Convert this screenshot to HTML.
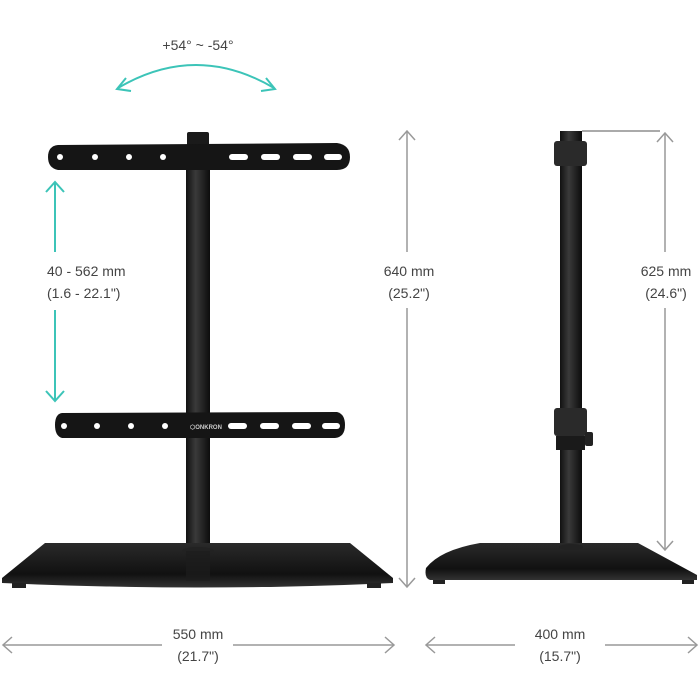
<!DOCTYPE html>
<html><head><style>
html,body{margin:0;padding:0;background:#fff;width:700px;height:700px;overflow:hidden}
text{font-family:"Liberation Sans",sans-serif;font-size:14px;fill:#444}
</style></head><body>
<svg width="700" height="700" viewBox="0 0 700 700" xmlns="http://www.w3.org/2000/svg">
<defs>
<linearGradient id="pole" x1="0" x2="1"><stop offset="0" stop-color="#111"/><stop offset="0.4" stop-color="#3a3a3a"/><stop offset="1" stop-color="#0c0c0c"/></linearGradient>
<linearGradient id="base" x1="0" y1="0" x2="0" y2="1"><stop offset="0" stop-color="#2a2a2a"/><stop offset="0.7" stop-color="#111"/><stop offset="1" stop-color="#333"/></linearGradient>
</defs>
<!-- rotation arc -->
<text x="198" y="50" text-anchor="middle">+54° ~ -54°</text>
<path d="M118,88 Q196,42 274,88" fill="none" stroke="#3cc4b8" stroke-width="2"/>
<path d="M126,78 L117,89 L131,91" fill="none" stroke="#3cc4b8" stroke-width="2"/>
<path d="M266,78 L275,89 L261,91" fill="none" stroke="#3cc4b8" stroke-width="2"/>

<!-- left stand pole -->
<rect x="186" y="150" width="24" height="400" fill="url(#pole)"/>
<rect x="187" y="132" width="22" height="16" rx="2" fill="#1a1a1a"/>
<!-- top bracket -->
<path d="M58,145 L337,143 Q350,145 350,157 Q350,170 337,170 L58,170 Q48,168 48,157 Q48,146 58,145Z" fill="#151515"/>
<g fill="#fff"><circle cx="60" cy="157" r="3"/><circle cx="95" cy="157" r="3"/><circle cx="129" cy="157" r="3"/><circle cx="163" cy="157" r="3"/>
<rect x="229" y="154" width="19" height="6" rx="3"/><rect x="261" y="154" width="19" height="6" rx="3"/><rect x="293" y="154" width="19" height="6" rx="3"/><rect x="324" y="154" width="18" height="6" rx="3"/></g>
<!-- lower bracket -->
<path d="M62,413 L337,412 Q345,414 345,425 Q345,437 335,438 L62,438 Q55,436 55,425 Q55,414 62,413Z" fill="#151515"/>
<g fill="#fff"><circle cx="64" cy="426" r="3"/><circle cx="97" cy="426" r="3"/><circle cx="131" cy="426" r="3"/><circle cx="165" cy="426" r="3"/>
<rect x="228" y="423" width="19" height="6" rx="3"/><rect x="260" y="423" width="19" height="6" rx="3"/><rect x="292" y="423" width="19" height="6" rx="3"/><rect x="322" y="423" width="18" height="6" rx="3"/></g>
<text x="190" y="429" style="font-size:6px;fill:#ccc;font-weight:bold">⬡ONKRON</text>
<!-- base -->
<path d="M45,543 L350,543 L393,578 L393,583 Q198,592 2,583 L2,578Z" fill="url(#base)"/>
<ellipse cx="198" cy="551" rx="16" ry="4" fill="#222"/>
<rect x="186" y="551" width="24" height="30" fill="#1c1c1c" opacity="0.7"/>
<rect x="12" y="583" width="14" height="5" fill="#222"/><rect x="367" y="583" width="14" height="5" fill="#222"/>

<!-- teal arrow -->
<g stroke="#3cc4b8" stroke-width="2" fill="none">
<line x1="55" y1="182" x2="55" y2="252"/><line x1="55" y1="310" x2="55" y2="401"/>
<path d="M46,192 L55,182 L64,192"/><path d="M46,391 L55,401 L64,391"/></g>
<text x="47" y="276">40 - 562 mm</text><text x="47" y="298">(1.6 - 22.1")</text>

<!-- gray arrows -->
<g stroke="#999" stroke-width="1.5" fill="none">
<line x1="407" y1="131" x2="407" y2="252"/><line x1="407" y1="308" x2="407" y2="587"/>
<path d="M399,140 L407,131 L415,140"/><path d="M399,578 L407,587 L415,578"/>
<line x1="665" y1="133" x2="665" y2="252"/><line x1="665" y1="308" x2="665" y2="550"/>
<path d="M657,142 L665,133 L673,142"/><path d="M657,541 L665,550 L673,541"/>
<line x1="3" y1="645" x2="162" y2="645"/><line x1="233" y1="645" x2="394" y2="645"/>
<path d="M12,637 L3,645 L12,653"/><path d="M385,637 L394,645 L385,653"/>
<line x1="426" y1="645" x2="515" y2="645"/><line x1="605" y1="645" x2="697" y2="645"/>
<path d="M435,637 L426,645 L435,653"/><path d="M688,637 L697,645 L688,653"/>
</g>
<line x1="582" y1="131" x2="660" y2="131" stroke="#555" stroke-width="1"/>
<text x="409" y="276" text-anchor="middle">640 mm</text><text x="409" y="298" text-anchor="middle">(25.2")</text>
<text x="666" y="276" text-anchor="middle">625 mm</text><text x="666" y="298" text-anchor="middle">(24.6")</text>
<text x="198" y="639" text-anchor="middle">550 mm</text><text x="198" y="661" text-anchor="middle">(21.7")</text>
<text x="560" y="639" text-anchor="middle">400 mm</text><text x="560" y="661" text-anchor="middle">(15.7")</text>

<!-- right stand -->
<rect x="560" y="131" width="22" height="418" fill="url(#pole)"/>
<rect x="554" y="141" width="33" height="25" rx="3" fill="#2a2a2a"/>
<rect x="554" y="408" width="33" height="28" rx="3" fill="#2a2a2a"/>
<rect x="556" y="436" width="29" height="14" fill="#1a1a1a"/>
<rect x="585" y="432" width="8" height="14" rx="2" fill="#222"/>
<path d="M480,543 L638,543 L697,575 L697,580 L430,580 Q424,578 426,568 Q440,550 480,543Z" fill="url(#base)"/>
<ellipse cx="571" cy="547" rx="12" ry="3" fill="#222"/>
<rect x="433" y="580" width="12" height="4" fill="#222"/><rect x="682" y="580" width="12" height="4" fill="#222"/>
</svg>
</body></html>
